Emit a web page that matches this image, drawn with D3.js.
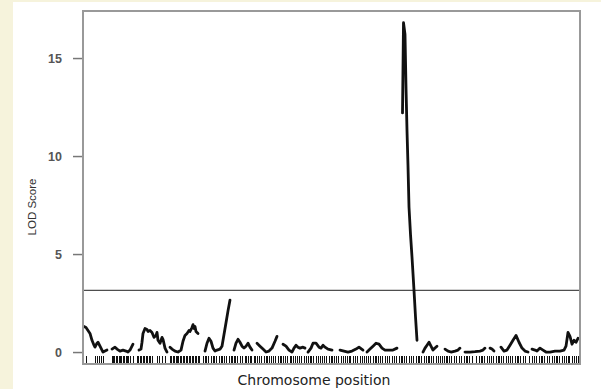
<!DOCTYPE html>
<html>
<head>
<meta charset="utf-8">
<script src="https://cdn.jsdelivr.net/npm/d3@7"></script>
<style>
  html, body { margin: 0; padding: 0; background: #f6f3dc; }
  svg { display: block; }
</style>
</head>
<body>
<div id="chart"></div>
<script>
"use strict"

// LOD profile, one array per chromosome: [cumulative position, LOD]
let chr1 = [[1,1.3],[3,1.25],[5,1.1],[7,0.95],[9,0.6],[11,0.35],[12,0.25],[14,0.45],[15,0.5],[17,0.3],[18,0.2],[20,0.0],[22,0.05],[24,0.1]];
let chr2 = [[29,0.15],[32,0.25],[34,0.15],[37,0.05],[40,0.1],[43,0.05],[45,0.0],[47,0.1],[49,0.3],[50,0.4]];
let chr3 = [[56,0.1],[58,0.15],[59,0.5],[60,0.95],[62,1.2],[64,1.15],[65,1.05],[67,1.1],[69,1.0],[71,0.75],[73,0.85],[74,1.0],[75,0.6],[77,0.45],[79,0.75],[80,0.65],[82,0.2],[84,0.0]];
let chr4 = [[87,0.25],[89,0.15],[92,0.05],[95,0.0],[98,0.1],[100,0.55],[102,0.85],[104,0.95],[106,1.1],[107,1.05],[109,1.25],[110,1.4],[111,1.2],[112,1.3],[113,1.05],[115,0.95]];
let chr5 = [[122,0.05],[124,0.45],[126,0.7],[128,0.55],[130,0.2],[132,0.05],[134,0.1],[137,0.15],[139,0.3],[141,0.9],[143,1.5],[145,2.1],[147,2.65]];
let chr6 = [[151,0.1],[153,0.45],[155,0.65],[157,0.5],[159,0.3],[161,0.2],[163,0.3],[165,0.45],[167,0.25],[169,0.1]];
let chr7 = [[174,0.45],[177,0.3],[180,0.15],[183,0.0],[186,0.05],[189,0.2],[192,0.55],[194,0.8]];
let chr8 = [[200,0.4],[203,0.3],[206,0.1],[209,0.0],[211,0.2],[213,0.35],[215,0.25],[217,0.2],[220,0.25],[222,0.2]];
let chr9 = [[225,0.0],[228,0.2],[230,0.45],[233,0.45],[236,0.25],[238,0.2],[240,0.35],[242,0.25],[245,0.15],[249,0.1]];
let chr10 = [[257,0.1],[261,0.05],[265,0.0],[269,0.05],[273,0.15],[276,0.25],[280,0.1]];
let chr11 = [[284,0.0],[287,0.15],[290,0.3],[293,0.45],[296,0.4],[299,0.2],[302,0.1],[306,0.1],[310,0.1],[314,0.2]];
let chr12 = [[319.5,12.2],[320.5,16.8],[322,16.2],[323,13.5],[324,11.3],[325,9.5],[326,7.4],[327.5,6.0],[329,4.85],[330,4.0],[331,3.15],[332.5,1.8],[334,0.6]];
let chr13 = [[340,0.0],[342,0.2],[344,0.35],[346,0.5],[348,0.3],[350,0.1],[352,0.2],[354,0.3]];
let chr14 = [[362,0.15],[365,0.05],[368,0.0],[372,0.05],[375,0.1],[377,0.2]];
let chr15 = [[382,0.0],[387,0.0],[392,0.02],[397,0.05],[400,0.1],[402,0.2]];
let chr16 = [[407,0.2],[409,0.15],[411,0.05]];
let chr17 = [[418,0.25],[421,0.05],[424,0.1],[427,0.35],[430,0.6],[433,0.85],[436,0.5],[439,0.2],[442,0.05],[445,0.0]];
let chr18 = [[449,0.15],[452,0.1],[454,0.05],[457,0.2],[460,0.1],[463,0.0],[467,0.0],[472,0.05],[477,0.05],[481,0.1],[483,0.3],[485,1.0],[487,0.8],[489,0.4],[491,0.6],[493,0.5],[495,0.7]];

let chromosomes = [chr1, chr2, chr3, chr4, chr5, chr6, chr7, chr8, chr9, chr10, chr11, chr12, chr13, chr14, chr15, chr16, chr17, chr18];

// marker positions (rug)
let markers = [3,12,14,16,18,20,29,30,31,33,34,36,37,38,40,41,43,44,45,47,50,54,55,57,58,60,61,63,64,66,67,69,74,76,79,82,
    87,88,90,91,93,94,95,97,98,100,101,103,104,106,107,109,110,112,113,115,116,
    120,122,123,125,128,130,131,133,136,138,139,141,143,146,148,149,151,152,154,157,159,162,163,165,167,168,171,172,174,176,178,
    181,183,184,186,188,190,192,195,197,198,200,202,204,207,208,210,212,214,216,218,221,223,225,227,228,230,233,235,237,239,241,
    243,246,248,249,251,253,255,258,260,262,264,266,267,270,272,274,277,279,281,283,285,287,290,292,293,295,297,299,302,304,306,
    309,311,313,316,318,319,321,323,326,328,330,333,335,336,338,341,343,345,346,348,350,353,355,357,359,361,363,364,366,368,371,
    373,376,378,381,383,384,386,389,393,396,398,399,401,404,406,408,410,413,415,416,418,420,423,425,427,429,432,434,435,437,440,
    442,446,449,451,453,456,458,459,461,464,466,469,471,473,474,476,479,481,483,485,486,489,491,493,495,496];

let yTicks = [0, 5, 10, 15];
let threshold = 3.15;

var width = 601,
    height = 389;

var svg = d3.select("#chart")
    .append("svg")
    .attr("width", width)
    .attr("height", height);

// white slide panel
svg.append("rect")
    .attr("x", 13).attr("y", 2)
    .attr("width", width - 13).attr("height", height - 2)
    .attr("fill", "#ffffff");

var plot = { left: 83, right: 580, top: 11, bottom: 364 };

var x = d3.scaleLinear()
    .domain([0, 497])
    .range([plot.left, plot.right]);

var y = d3.scaleLinear()
    .domain([-0.61, 17.4])
    .range([plot.bottom, plot.top]);

// threshold line
svg.append("line")
    .attr("x1", plot.left).attr("x2", plot.right)
    .attr("y1", y(threshold)).attr("y2", y(threshold))
    .attr("stroke", "#222")
    .attr("stroke-width", 1);

// rug of markers
svg.append("g")
    .selectAll("line")
    .data(markers)
    .enter()
    .append("line")
    .attr("x1", d => Math.round(x(d)) + 0.5).attr("x2", d => Math.round(x(d)) + 0.5)
    .attr("y1", plot.bottom - 8).attr("y2", plot.bottom)
    .attr("stroke", "#111")
    .attr("stroke-width", 1);

// LOD curves
var line = d3.line()
    .x(d => x(d[0]))
    .y(d => y(d[1]));

svg.append("g")
    .selectAll("path")
    .data(chromosomes)
    .enter()
    .append("path")
    .attr("d", line)
    .attr("fill", "none")
    .attr("stroke", "#111")
    .attr("stroke-width", 2.8)
    .attr("stroke-linejoin", "round")
    .attr("stroke-linecap", "round");

// frame
svg.append("rect")
    .attr("x", plot.left).attr("y", plot.top)
    .attr("width", plot.right - plot.left)
    .attr("height", plot.bottom - plot.top)
    .attr("fill", "none")
    .attr("stroke", "#999")
    .attr("stroke-width", 2);

// y axis
var yAxis = d3.axisLeft(y)
    .tickValues(yTicks)
    .tickSize(9)
    .tickPadding(11)
    .tickFormat(d3.format("d"));

var gy = svg.append("g")
    .attr("transform", "translate(" + (plot.left - 1) + ",0)")
    .call(yAxis);
gy.select(".domain").remove();
gy.selectAll(".tick line").attr("stroke", "#777").attr("stroke-width", 1.5);
gy.selectAll(".tick text")
    .attr("fill", "#555")
    .style("font-family", "Liberation Sans, Arial, sans-serif")
    .style("font-size", "12.5px")
    .style("font-weight", "bold");

// axis titles
svg.append("text")
    .attr("transform", "translate(36,207) rotate(-90)")
    .attr("text-anchor", "middle")
    .attr("fill", "#333")
    .style("font-family", "Liberation Sans, Arial, sans-serif")
    .style("font-size", "11.5px")
    .text("LOD Score");

svg.append("text")
    .attr("x", 314)
    .attr("y", 385)
    .attr("text-anchor", "middle")
    .attr("fill", "#222")
    .style("font-family", "DejaVu Sans, sans-serif")
    .style("font-size", "14px")
    .text("Chromosome position");
</script>
</body>
</html>
